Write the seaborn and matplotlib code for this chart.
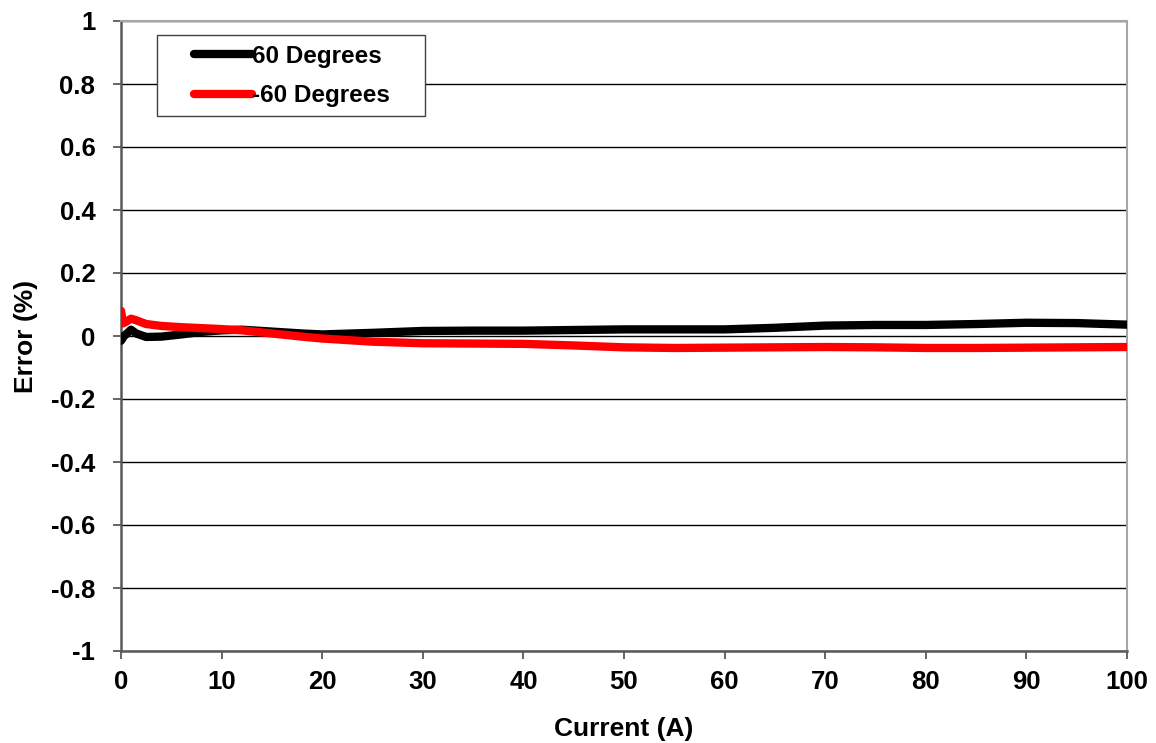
import matplotlib
matplotlib.use("Agg")
import matplotlib.pyplot as plt
import matplotlib.patches as mpatches
import seaborn as sns
import pandas as pd

# Data
current_pos60 = [0, 0.3, 0.6, 1.0, 1.5, 2.5, 4, 6, 8, 10, 12, 15, 18, 20, 25, 30, 35, 40, 45,
                 50, 55, 60, 65, 70, 75, 80, 85, 90, 95, 100]
error_pos60 = [-0.015, 0.0, 0.008, 0.02, 0.008, -0.003, -0.002, 0.005, 0.013, 0.018, 0.02, 0.014,
               0.008, 0.005, 0.01, 0.016, 0.017, 0.017, 0.019, 0.021, 0.021, 0.021, 0.026, 0.033,
               0.035, 0.035, 0.038, 0.042, 0.041, 0.036]
current_neg60 = [0, 0.2, 0.5, 1.0, 1.5, 2.5, 4, 6, 8, 10, 12, 15, 18, 20, 25, 30, 35, 40, 45,
                 50, 55, 60, 65, 70, 75, 80, 85, 90, 95, 100]
error_neg60 = [0.08, 0.04, 0.045, 0.055, 0.05, 0.038, 0.032, 0.028, 0.025, 0.022, 0.018, 0.008,
               -0.002, -0.008, -0.018, -0.023, -0.024, -0.025, -0.03, -0.036, -0.038, -0.037,
               -0.036, -0.035, -0.036, -0.038, -0.038, -0.037, -0.036, -0.035]
series_names = ["60 Degrees", "-60 Degrees"]
series_colors = ["#000000", "#ff0000"]
x_ticks = [0, 10, 20, 30, 40, 50, 60, 70, 80, 90, 100]
y_ticks = [-1, -0.8, -0.6, -0.4, -0.2, 0, 0.2, 0.4, 0.6, 0.8, 1]
y_tick_labels = ["-1", "-0.8", "-0.6", "-0.4", "-0.2", "0", "0.2", "0.4", "0.6", "0.8", "1"]

df = pd.concat([
    pd.DataFrame({"Current": current_pos60, "Error": error_pos60, "Series": series_names[0]}),
    pd.DataFrame({"Current": current_neg60, "Error": error_neg60, "Series": series_names[1]}),
], ignore_index=True)

sns.set_style("white")
plt.rcParams["font.family"] = ["Liberation Sans", "DejaVu Sans"]
plt.rcParams["font.weight"] = "bold"
plt.rcParams["text.color"] = "black"
plt.rcParams["axes.labelcolor"] = "black"
plt.rcParams["xtick.color"] = "black"
plt.rcParams["ytick.color"] = "black"

W, H = 1156, 743
fig = plt.figure(figsize=(W / 100, H / 100), dpi=100)
ax = fig.add_axes([121 / W, 1 - 651 / H, (1127 - 121) / W, (651 - 21) / H])

sns.lineplot(data=df, x="Current", y="Error", hue="Series", hue_order=series_names,
             palette=series_colors, linewidth=6.0, sort=False, ax=ax,
             solid_capstyle="round", solid_joinstyle="round", zorder=3)

ax.set_xlim(0, 100)
ax.set_ylim(-1, 1)
ax.set_xticks(x_ticks)
ax.set_xticklabels([str(t) for t in x_ticks])
ax.set_yticks(y_ticks)
ax.set_yticklabels(y_tick_labels)
ax.yaxis.grid(True, color="black", linewidth=1.0, zorder=1)
ax.xaxis.grid(False)
ax.set_axisbelow(True)

for side in ["top", "right"]:
    ax.spines[side].set_visible(True)
    ax.spines[side].set_color("#a6a6a6")
    ax.spines[side].set_linewidth(1.5)
for side in ["left", "bottom"]:
    ax.spines[side].set_color("#595959")
    ax.spines[side].set_linewidth(1.8)

ax.tick_params(axis="both", which="major", direction="out", length=5.5, width=1.3,
               color="#595959", labelcolor="black", labelsize=18.5, left=True, bottom=True)
ax.tick_params(axis="y", pad=13)
ax.tick_params(axis="x", pad=8)
for lbl in ax.get_xticklabels() + ax.get_yticklabels():
    lbl.set_fontweight("bold")

ax.set_xlabel("Current (A)", fontsize=19, fontweight="bold", labelpad=17, color="black")
ax.set_ylabel("Error (%)", fontsize=19, fontweight="bold", labelpad=9, color="black")

# legend box (frame drawn as a patch to get the reference's wide side padding)
frame = mpatches.Rectangle((157 / W, 1 - 116 / H), (425 - 157) / W, (116 - 35) / H,
                           transform=fig.transFigure, facecolor="white",
                           edgecolor="#404040", linewidth=1.0, zorder=5, clip_on=False)
ax.add_patch(frame)

leg = ax.legend(loc="upper left", bbox_to_anchor=(194 / W, 1 - 45 / H),
                bbox_transform=fig.transFigure, frameon=False, fontsize=17.5,
                handlelength=2.4, handletextpad=0.0, borderpad=0.0, labelspacing=0.66,
                borderaxespad=0)
for t in leg.get_texts():
    t.set_fontweight("bold")
    t.set_color("black")
for h in leg.get_lines():
    h.set_linewidth(6.0)
leg.set_zorder(10)

fig.savefig("out.png", dpi=100)
